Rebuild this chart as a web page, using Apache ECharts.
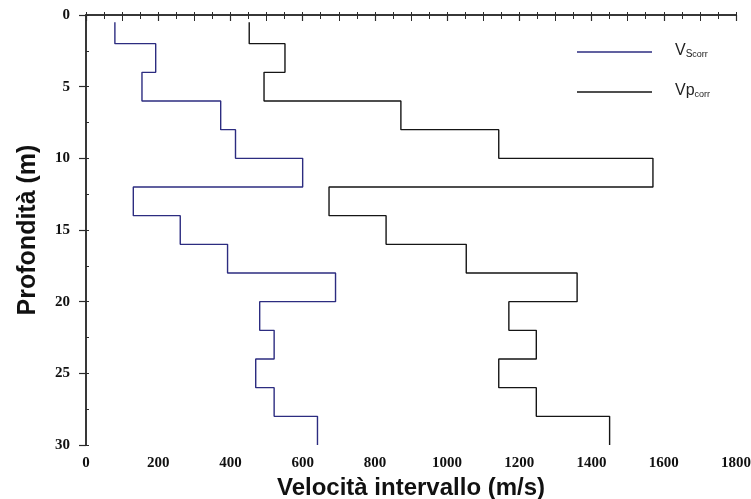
<!DOCTYPE html>
<html>
<head>
<meta charset="utf-8">
<style>
  html, body { margin: 0; padding: 0; background: #fff; }
  #chart { width: 751px; height: 499px; }
</style>
<script src="https://cdn.jsdelivr.net/npm/echarts@6/dist/echarts.min.js"></script>
</head>
<body>
<div id="chart"></div>
<script>
// Layer boundaries (depth, m) and interval velocities per layer (m/s)
const depthBounds = [0.5, 2, 4, 6, 8, 10, 12, 14, 16, 18, 20, 22, 24, 26, 28, 30];
const vsCorr = [80, 193, 155, 373, 414, 600, 131, 261, 392, 691, 481, 521, 470, 521, 641];
const vpCorr = [452, 551, 493, 872, 1143, 1570, 673, 831, 1053, 1360, 1171, 1247, 1143, 1247, 1450];
const seriesNames = ['Vscorr', 'Vpcorr'];

// Turn per-layer values into a stepped profile: one vertical run per layer
function stepProfile(values) {
  const pts = [];
  values.forEach((v, i) => {
    pts.push([v, depthBounds[i]]);
    pts.push([v, depthBounds[i + 1]]);
  });
  return pts;
}

const axisColor = '#2b2b2b';
const tickFont = { fontFamily: 'Liberation Serif', fontWeight: 'bold', fontSize: 15, color: '#111' };
const titleFont = { fontFamily: 'Liberation Sans', fontWeight: 'bold', color: '#111' };

// Tick-only helper axes (no line, no labels)
function tickAxis(kind, position, interval, inside, length, max) {
  return {
    type: 'value', position, min: 0, max, interval,
    inverse: kind === 'y',
    axisLine: { show: false },
    axisTick: { show: true, inside, length, lineStyle: { color: axisColor, width: 1 } },
    axisLabel: { show: false },
    splitLine: { show: false }
  };
}

const chart = echarts.init(document.getElementById('chart'));

chart.setOption({
  backgroundColor: '#fff',
  animation: false,
  grid: { left: 86, top: 15, right: 15, bottom: 54, outerBoundsMode: 'none', containLabel: false },
  legend: {
    orient: 'vertical',
    left: 577,
    top: 39,
    padding: 0,
    itemWidth: 75,
    itemHeight: 1.4,
    itemGap: 14,
    icon: 'rect',
    data: seriesNames,
    formatter: name => name === 'Vscorr'
      ? '{v|V}{s|S}{c|corr}'
      : '{v|V}{p|p}{c|corr}',
    textStyle: {
      padding: [0, 0, 6, 18],
      lineHeight: 20,
      rich: {
        v: { fontFamily: 'Liberation Sans', fontSize: 16, color: '#222', lineHeight: 20, verticalAlign: 'bottom' },
        p: { fontFamily: 'Liberation Sans', fontSize: 16, color: '#222', lineHeight: 20, verticalAlign: 'bottom' },
        s: { fontFamily: 'Liberation Sans', fontSize: 10, color: '#222', lineHeight: 14, verticalAlign: 'bottom' },
        c: { fontFamily: 'Liberation Sans', fontSize: 9, color: '#222', lineHeight: 13, verticalAlign: 'bottom' }
      }
    }
  },
  xAxis: [
    {
      type: 'value', position: 'bottom', min: 0, max: 1800, interval: 200,
      name: 'Velocità intervallo (m/s)', nameLocation: 'middle', nameGap: 28,
      nameTextStyle: Object.assign({ fontSize: 24 }, titleFont),
      axisLine: { show: true, lineStyle: { color: axisColor, width: 1.5 } },
      axisTick: { show: true, inside: false, length: 6, lineStyle: { color: axisColor, width: 1.2 } },
      axisLabel: Object.assign({ margin: 11, formatter: v => String(v) }, tickFont),
      splitLine: { show: false }
    },
    tickAxis('x', 'bottom', 100, false, 6, 1800),
    tickAxis('x', 'bottom', 50, true, 3, 1800),
    {
      type: 'value', position: 'top', min: 0, max: 1800, interval: 50,
      axisLine: { show: true, lineStyle: { color: axisColor, width: 1.5 } },
      axisTick: { show: true, inside: true, length: 4, lineStyle: { color: axisColor, width: 1 } },
      axisLabel: { show: false },
      splitLine: { show: false }
    }
  ],
  yAxis: [
    {
      type: 'value', position: 'left', inverse: true, min: 0, max: 30, interval: 5,
      name: 'Profondità (m)', nameLocation: 'middle', nameGap: 45,
      nameTextStyle: Object.assign({ fontSize: 25 }, titleFont),
      axisLine: { show: true, lineStyle: { color: axisColor, width: 1.5 } },
      axisTick: { show: true, inside: false, length: 7, lineStyle: { color: axisColor, width: 1.2 } },
      axisLabel: Object.assign({ margin: 16 }, tickFont),
      splitLine: { show: false }
    },
    tickAxis('y', 'left', 2.5, true, 3, 30),
    {
      type: 'value', position: 'right', inverse: true, min: 0, max: 30,
      axisLine: { show: true, lineStyle: { color: axisColor, width: 1.5 } },
      axisTick: { show: false },
      axisLabel: { show: false },
      splitLine: { show: false }
    }
  ],
  series: [
    {
      name: 'Vscorr', type: 'line', xAxisIndex: 0, yAxisIndex: 0,
      data: stepProfile(vsCorr), showSymbol: false, symbol: 'none',
      lineStyle: { color: '#2c2c80', width: 1.4 },
      itemStyle: { color: '#2c2c80' }
    },
    {
      name: 'Vpcorr', type: 'line', xAxisIndex: 0, yAxisIndex: 0,
      data: stepProfile(vpCorr), showSymbol: false, symbol: 'none',
      lineStyle: { color: '#151515', width: 1.4 },
      itemStyle: { color: '#151515' }
    }
  ]
});
</script>
</body>
</html>
